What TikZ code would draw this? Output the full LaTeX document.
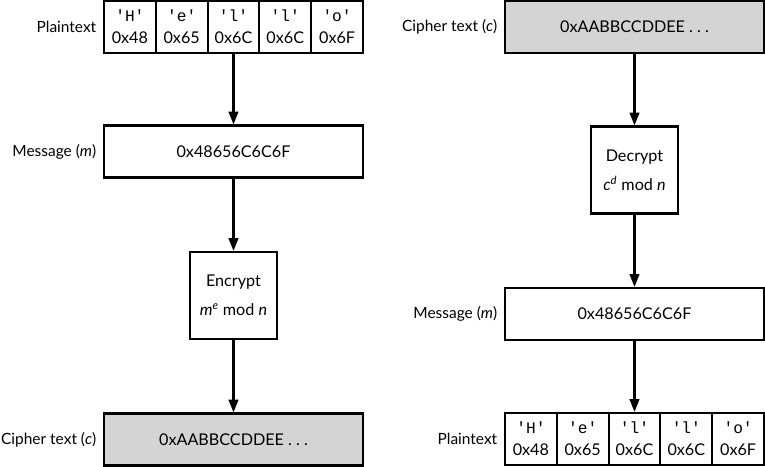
\documentclass[tikz,border=0pt]{standalone}
\usepackage{fontspec}
\setmainfont{Lato}
\setmonofont{Liberation Mono}
\usetikzlibrary{arrows.meta}
\usetikzlibrary{positioning}

\definecolor{cipherfill}{RGB}{212,212,212}

\tikzset{
  box/.style={draw, line width=1.5pt, inner sep=0pt, align=center},
  wide/.style={box, minimum width=6.475cm, minimum height=1.3cm},
  cell/.style={box, minimum width=1.295cm, minimum height=1.3cm},
  crypt/.style={box, minimum width=2.175cm, minimum height=2.175cm},
  tag/.style={inner sep=0pt, font=\fontsize{11}{14}\selectfont},
  flow/.style={line width=1.5pt, -{Triangle[length=0.32cm, width=0.24cm]}},
}

\begin{document}
\begin{tikzpicture}[font=\fontsize{11.5}{15.5}\selectfont]
\useasboundingbox (0,0) rectangle (19.125,11.675);

% encryption side
\begin{scope}[every node/.style={cell}]
\node (ptA1) at (3.2475,11.0) {\texttt{'H'}\\0x48};
\node (ptA2) at (4.5425,11.0) {\texttt{'e'}\\0x65};
\node (ptA3) at (5.8375,11.0) {\texttt{'l'}\\0x6C};
\node (ptA4) at (7.1325,11.0) {\texttt{'l'}\\0x6C};
\node (ptA5) at (8.4275,11.0) {\texttt{'o'}\\0x6F};
\end{scope}
\node[wide] (msgA) at (5.8375,7.8875) {0x48656C6C6F};
\node[crypt] (encA) at (5.8375,4.2875) {Encrypt\\[5pt]\textit{m}\textsuperscript{\textit{e}} mod \textit{n}};
\node[wide, fill=cipherfill] (ctA) at (5.8375,0.6875) {0xAABBCCDDEE\ .\ .\ .};

\node[tag, left=0.16cm of ptA1] (ptlabA) {Plaintext};
\node[tag, left=0.16cm of msgA] (msglabA) {Message (\textit{m})};
\node[tag, left=0.16cm of ctA] (ctlabA) {Cipher text (\textit{c})};

% decryption side
\node[wide, fill=cipherfill] (ctB) at (15.8625,11.0) {0xAABBCCDDEE\ .\ .\ .};
\node[crypt] (decB) at (15.8625,7.425) {Decrypt\\[5pt]\textit{c}\textsuperscript{\textit{d}} mod \textit{n}};
\node[wide] (msgB) at (15.8625,3.825) {0x48656C6C6F};
\begin{scope}[every node/.style={cell}]
\node (ptB1) at (13.2725,0.7) {\texttt{'H'}\\0x48};
\node (ptB2) at (14.5675,0.7) {\texttt{'e'}\\0x65};
\node (ptB3) at (15.8625,0.7) {\texttt{'l'}\\0x6C};
\node (ptB4) at (17.1575,0.7) {\texttt{'l'}\\0x6C};
\node (ptB5) at (18.4525,0.7) {\texttt{'o'}\\0x6F};
\end{scope}

\node[tag, left=0.16cm of ctB] (ctlabB) {Cipher text (\textit{c})};
\node[tag, left=0.16cm of msgB] (msglabB) {Message (\textit{m})};
\node[tag, left=0.16cm of ptB1] (ptlabB) {Plaintext};

% arrows
\draw[flow] (ptA3) -- (msgA);
\draw[flow] (msgA) -- (encA);
\draw[flow] (encA) -- (ctA);
\draw[flow] (ctB) -- (decB);
\draw[flow] (decB) -- (msgB);
\draw[flow] (msgB) -- (ptB3);

\end{tikzpicture}
\end{document}
